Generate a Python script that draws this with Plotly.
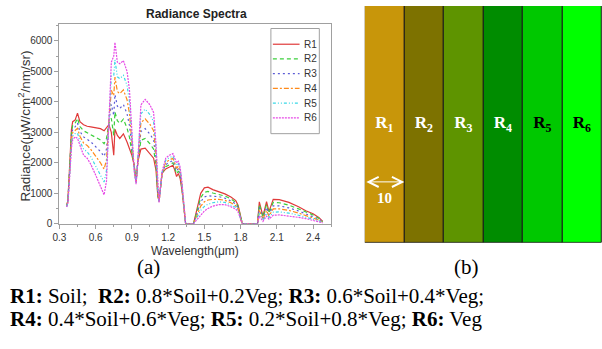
import plotly.graph_objects as go

W, H = 602, 349
SANS = "Liberation Sans, Arial, sans-serif"
SERIF = "Liberation Serif, Times New Roman, serif"


def px(x):
    return x / W


def py(y):
    return 1 - y / H


# ---------------- data ----------------
wavelength = [0.36, 0.37, 0.38, 0.39, 0.40, 0.41, 0.43, 0.45, 0.47, 0.50, 0.53, 0.56,
              0.60, 0.64, 0.67, 0.69, 0.71, 0.73, 0.75, 0.76, 0.78, 0.80, 0.83, 0.86,
              0.88, 0.90, 0.92, 0.935, 0.95, 0.975, 1.01, 1.05, 1.08, 1.10, 1.115, 1.125,
              1.15, 1.18, 1.21, 1.24, 1.255, 1.27, 1.285, 1.30, 1.315, 1.33, 1.345, 1.41,
              1.44, 1.47, 1.50, 1.53, 1.57, 1.62, 1.67, 1.72, 1.76, 1.78, 1.80, 1.815,
              1.94, 1.955, 1.985, 2.015, 2.035, 2.07, 2.12, 2.20, 2.28, 2.34, 2.40, 2.45, 2.48]

R1 = [600, 750, 1500, 2300, 3100, 3350, 3400, 3630, 3350, 3250, 3200, 3180,
      3150, 3120, 3050, 3150, 3250, 3000, 2250, 3100, 2900, 2800, 2950, 2680,
      2450, 2250, 1900, 1380, 2050, 2450, 2480, 2300, 2150, 1750, 900, 750,
      1650, 1800, 1860, 1920, 1760, 1550, 1650, 1480, 1100, 450, 0, 0,
      500, 1000, 1180, 1200, 1120, 1060, 980, 880, 760, 600, 200, 0,
      0, 720, 250, 730, 400, 800, 790, 700, 560, 430, 330, 200, 80]

R2 = [590, 740, 1440, 2220, 2980, 3230, 3290, 3460, 3190, 3050, 2990, 2930,
      2840, 2750, 2630, 2800, 3300, 3460, 2900, 3670, 3380, 3290, 3430, 3140,
      2840, 2380, 1860, 1360, 2060, 2740, 2800, 2620, 2450, 1920, 940, 740,
      1660, 1870, 1940, 2000, 1840, 1640, 1730, 1550, 1150, 460, 0, 0,
      430, 860, 1030, 1060, 1010, 970, 910, 820, 700, 560, 180, 0,
      0, 630, 220, 630, 350, 700, 690, 610, 490, 380, 290, 170, 70]

R3 = [580, 720, 1380, 2140, 2860, 3110, 3180, 3300, 3030, 2850, 2780, 2690,
      2530, 2370, 2210, 2450, 3350, 3920, 3550, 4240, 3860, 3780, 3910, 3610,
      3230, 2510, 1820, 1350, 2070, 3030, 3120, 2940, 2750, 2090, 980, 730,
      1670, 1940, 2020, 2070, 1920, 1730, 1810, 1630, 1200, 470, 0, 0,
      360, 720, 880, 920, 900, 890, 840, 750, 650, 510, 170, 0,
      0, 530, 180, 540, 300, 590, 590, 520, 420, 330, 250, 150, 60]

R4 = [570, 710, 1320, 2060, 2740, 2990, 3070, 3130, 2870, 2650, 2570, 2440,
      2220, 2000, 1790, 2100, 3400, 4380, 4200, 4810, 4340, 4270, 4390, 4070,
      3620, 2640, 1780, 1330, 2080, 3320, 3440, 3260, 3050, 2260, 1020, 720,
      1680, 2010, 2090, 2150, 1990, 1820, 1890, 1700, 1250, 480, 0, 0,
      290, 580, 720, 780, 800, 800, 770, 690, 590, 470, 150, 0,
      0, 440, 150, 440, 250, 490, 490, 440, 350, 270, 200, 120, 50]

R5 = [560, 690, 1260, 1980, 2620, 2870, 2960, 2970, 2710, 2450, 2360, 2200,
      1910, 1620, 1370, 1750, 3450, 4840, 4850, 5380, 4820, 4760, 4870, 4540,
      4010, 2770, 1740, 1320, 2090, 3610, 3760, 3580, 3350, 2430, 1060, 710,
      1690, 2080, 2170, 2220, 2070, 1910, 1970, 1780, 1300, 490, 0, 0,
      220, 440, 570, 640, 690, 720, 700, 620, 540, 420, 140, 0,
      0, 340, 110, 350, 200, 380, 390, 350, 280, 220, 160, 100, 40]

R6 = [550, 680, 1200, 1900, 2500, 2750, 2850, 2800, 2550, 2250, 2150, 1950,
      1600, 1250, 950, 1400, 3500, 5300, 5500, 5950, 5300, 5250, 5350, 5000,
      4400, 2900, 1700, 1300, 2100, 3900, 4080, 3900, 3650, 2600, 1100, 700,
      1700, 2150, 2250, 2300, 2150, 2000, 2050, 1850, 1350, 500, 0, 0,
      150, 300, 420, 500, 580, 630, 630, 560, 480, 380, 120, 0,
      0, 250, 80, 250, 150, 280, 290, 260, 210, 170, 120, 70, 30]

series_names = ["R1", "R2", "R3", "R4", "R5", "R6"]
series_values = [R1, R2, R3, R4, R5, R6]
for v in series_values:
    assert len(v) == len(wavelength)

line_colors = ["#e03a3a", "#3ccf3c", "#5c5cd6", "#ff8a1a", "#3ad8e6", "#e64ae6"]
line_dashes = ["solid", "4px,3px", "2px,3px", "5px,2px,2px,2px", "3px,2px,1px,2px,1px,2px", "2px,1px"]

x_ticks = [0.3, 0.6, 0.9, 1.2, 1.5, 1.8, 2.1, 2.4]
y_ticks = [0, 1000, 2000, 3000, 4000, 5000, 6000]

# right panel (b)
stripe_names = ["R1", "R2", "R3", "R4", "R5", "R6"]
stripe_height = [1, 1, 1, 1, 1, 1]
stripe_colors = ["#c8960a", "#7d7200", "#5e9400", "#008c00", "#00c800", "#00ff00"]
stripe_labels = ["<b>R<sub>%d</sub></b>" % i for i in range(1, 7)]
stripe_text_colors = ["white", "white", "white", "white", "black", "black"]

fig = go.Figure()

for name, vals, col, dash in zip(series_names, series_values, line_colors, line_dashes):
    fig.add_trace(go.Scatter(
        x=wavelength, y=vals, mode="lines", name=name,
        line=dict(color=col, width=1.2, dash=dash),
        xaxis="x", yaxis="y", showlegend=False,
    ))

fig.add_trace(go.Bar(
    x=stripe_names, y=stripe_height, width=1,
    marker=dict(color=stripe_colors, line=dict(color="#1a1a1a", width=1)),
    text=stripe_labels, textposition="inside", insidetextanchor="middle",
    textangle=0, textfont=dict(family=SERIF, size=17, color=stripe_text_colors),
    xaxis="x2", yaxis="y2", showlegend=False, hoverinfo="skip",
))

axis_common = dict(
    showline=True, linecolor="#a0a0a0", linewidth=1, mirror=True,
    ticks="outside", ticklen=4, tickcolor="#a0a0a0", showgrid=False, zeroline=False,
    tickfont=dict(family=SANS, size=10, color="#333333"),
)

fig.update_layout(
    width=W, height=H,
    margin=dict(l=0, r=0, t=0, b=0),
    paper_bgcolor="white", plot_bgcolor="white",
    bargap=0,
    xaxis=dict(domain=[px(53), px(328)], range=[0.3, 2.55], tickvals=x_ticks,
               ticktext=["%.1f" % t for t in x_ticks],
               minor=dict(dtick=0.15, tick0=0.3, ticks="outside", ticklen=2, tickcolor="#a0a0a0"),
               anchor="y", **axis_common),
    yaxis=dict(domain=[py(227.7), py(24.5)], range=[0, 6550], tickvals=y_ticks,
               minor=dict(dtick=500, ticks="outside", ticklen=2, tickcolor="#a0a0a0"),
               anchor="x", **axis_common),
    xaxis2=dict(domain=[px(362), 1.0], range=[-0.5, 5.5], visible=False, anchor="y2"),
    yaxis2=dict(domain=[py(247), py(6)], range=[0, 1], visible=False, anchor="x2"),
)


def label(text, x, y, size, family=SANS, color="#333333", xanchor="center", **kw):
    return dict(text=text, x=px(x), y=py(y), xref="paper", yref="paper", showarrow=False,
                xanchor=xanchor, yanchor="middle", font=dict(family=family, size=size, color=color), **kw)


ann = []
# chart title and axis titles
ann.append(label("<b>Radiance Spectra</b>", 192, 14, 12, color="#222222"))
ann.append(label("Wavelength(μm)", 190, 255, 12))
ann.append(label("Radiance(μW/cm<sup>2</sup>/nm/sr)", 17, 128, 13.5, textangle=-90))

# manual legend
shapes = [dict(type="rect", xref="paper", yref="paper", x0=px(267), x1=px(316), y0=py(136), y1=py(29),
               line=dict(color="#a0a0a0", width=1), fillcolor="white", layer="above")]
legend_y = [45, 60, 75, 90, 105, 120]
for name, col, dash, ly in zip(series_names, line_colors, line_dashes, legend_y):
    shapes.append(dict(type="line", xref="paper", yref="paper", x0=px(269), x1=px(296), y0=py(ly), y1=py(ly),
                       line=dict(color=col, width=1.2, dash=dash), layer="above"))
    ann.append(label(name, 298, ly, 10, xanchor="left"))

# width arrow in panel (b)
ann.append(dict(x=0.5, y=0.257, ax=-0.5, ay=0.257, xref="x2", yref="y2", axref="x2", ayref="y2",
                text="", showarrow=True, arrowside="end+start", arrowhead=5, startarrowhead=5,
                arrowsize=2, startarrowsize=2, arrowwidth=1, arrowcolor="white"))
ann.append(dict(text="<b>10</b>", x=0, y=0.19, xref="x2", yref="y2", showarrow=False,
                xanchor="center", yanchor="middle",
                font=dict(family=SERIF, size=15, color="white")))

# captions
ann.append(label("(a)", 143, 272, 21, family=SERIF, color="black"))
ann.append(label("(b)", 465, 272, 21, family=SERIF, color="black"))
ann.append(label("<b>R1:</b> Soil;  <b>R2:</b> 0.8*Soil+0.2Veg; <b>R3:</b> 0.6*Soil+0.4*Veg;",
                 1, 301, 21, family=SERIF, color="black", xanchor="left"))
ann.append(label("<b>R4:</b> 0.4*Soil+0.6*Veg; <b>R5:</b> 0.2*Soil+0.8*Veg; <b>R6:</b> Veg",
                 1, 325, 21, family=SERIF, color="black", xanchor="left"))

fig.update_layout(annotations=ann, shapes=shapes)
fig.write_html("out.html", config={"displayModeBar": False},
               post_script="document.body.style.margin='0';")
